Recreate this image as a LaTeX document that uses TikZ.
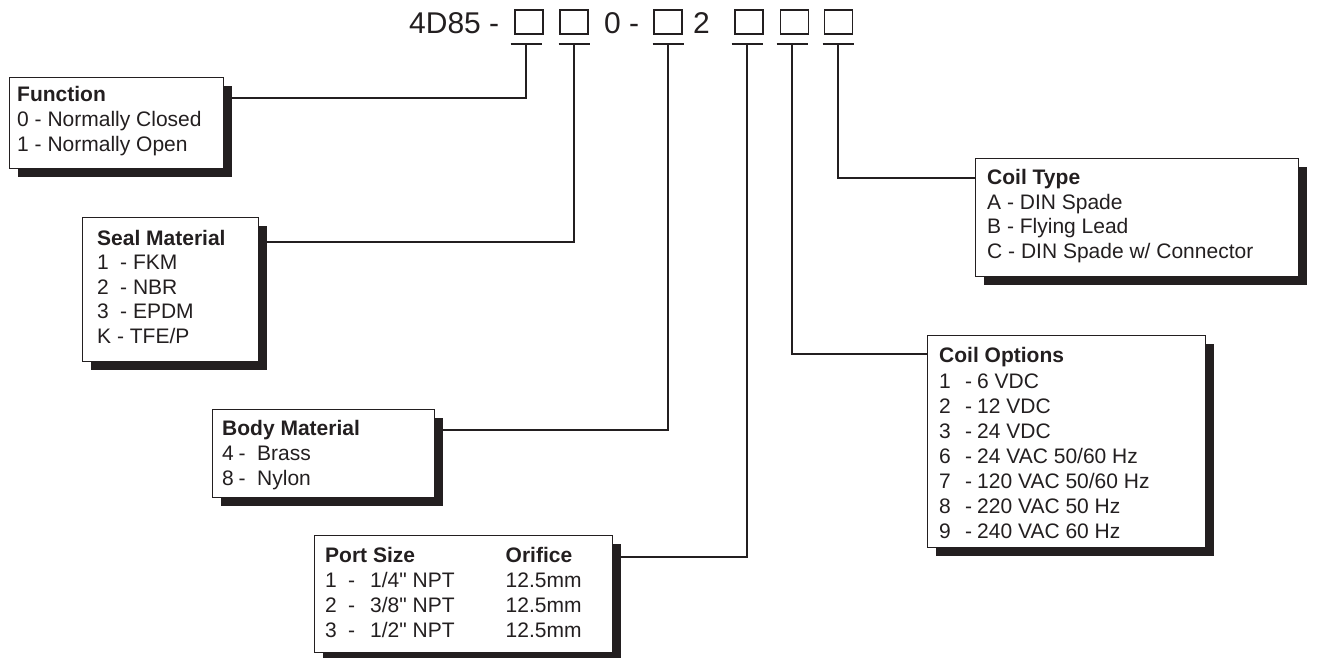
\documentclass[tikz,border=0pt]{standalone}
\usepackage{fontspec}
\setmainfont{Liberation Sans}[Ligatures=TeXOff]
\usetikzlibrary{shadows,backgrounds}
\definecolor{ink}{HTML}{231F20}
\begin{document}
\begin{tikzpicture}[x=1pt,y=-1pt,
  lead/.style={draw=ink,line width=2pt},
  selbox/.style={draw=ink,line width=1.6pt,minimum width=28pt,minimum height=24pt,inner sep=0pt,outer sep=0pt},
  panel/.style={draw=ink,line width=0.9pt,fill=white,anchor=north west,inner sep=0pt,outer sep=0pt,
     drop shadow={shadow xshift=9pt,shadow yshift=-9pt,opacity=1,fill=ink}},
  ttl/.style={anchor=base west,inner sep=0pt,text=ink,font=\fontsize{30}{36}\selectfont},
  txt/.style={anchor=base west,inner sep=0pt,text=ink,font=\fontsize{21}{25}\selectfont},
  hd/.style={anchor=base west,inner sep=0pt,text=ink,font=\fontsize{21}{25}\selectfont\bfseries}]
\useasboundingbox (0,0) rectangle (1322,658);

% title
\node[ttl] (tA) at (409,33.5) {4D85 -};
\node[ttl] (tB) at (604,33.5) {0 -};
\node[ttl] (tC) at (693,33.5) {2};
\node[selbox] (b1) at (529,22) {};
\node[selbox] (b2) at (574,22) {};
\node[selbox] (b3) at (668,22) {};
\node[selbox] (b4) at (749,22) {};
\node[selbox] (b5) at (794.5,22) {};
\node[selbox] (b6) at (838.5,22) {};

\coordinate (t1) at (526,44);
\coordinate (t2) at (574,44);
\coordinate (t3) at (668,44);
\coordinate (t4) at (747,44);
\coordinate (t5) at (792,44);
\coordinate (t6) at (838,44);

% panels
\node[panel,minimum width=214pt,minimum height=91pt] (fn) at (9,77) {};
\node[panel,minimum width=176pt,minimum height=144pt] (se) at (82,217) {};
\node[panel,minimum width=222pt,minimum height=88pt] (bo) at (212,409) {};
\node[panel,minimum width=298pt,minimum height=117pt] (po) at (314,535) {};
\node[panel,minimum width=323pt,minimum height=118pt] (ct) at (975,158) {};
\node[panel,minimum width=278pt,minimum height=212pt] (co) at (927,335) {};

% connectors
\begin{scope}[on background layer]
\foreach \t in {t1,t2,t3,t4,t5,t6}
  \draw[lead] ([xshift=-15.5pt]\t) -- ([xshift=15.5pt]\t);
\draw[lead] (t1) |- ([yshift=-21pt]fn.north east);
\draw[lead] (t2) |- ([yshift=-25pt]se.north east);
\draw[lead] (t3) |- ([yshift=-21pt]bo.north east);
\draw[lead] (t4) |- ([yshift=-22pt]po.north east);
\draw[lead] (t5) |- ([yshift=-19pt]co.north west);
\draw[lead] (t6) |- ([yshift=-20pt]ct.north west);
\end{scope}

% Function
\node[hd]  (fn0) at (17,102) {Function};
\node[txt] (fn1) at (17,127) {0 - Normally Closed};
\node[txt] (fn2) at (17,152) {1 - Normally Open};

% Seal Material
\node[hd]  (se0) at (97,245) {Seal Material};
\node[txt] (se1) at (97,269.5) {\makebox[23pt][l]{1}- FKM};
\node[txt] (se2) at (97,294) {\makebox[23pt][l]{2}- NBR};
\node[txt] (se3) at (97,318.5) {\makebox[23pt][l]{3}- EPDM};
\node[txt] (se4) at (97,343) {K - TFE/P};

% Body Material
\node[hd]  (bo0) at (222,435) {Body Material};
\node[txt] (bo1) at (222,460) {\makebox[16.5pt][l]{4}\makebox[18.5pt][l]{-}Brass};
\node[txt] (bo2) at (222,485) {\makebox[16.5pt][l]{8}\makebox[18.5pt][l]{-}Nylon};

% Port Size
\node[hd]  (po0) at (325,562) {Port Size};
\node[hd]  (po0b) at (505.5,562) {Orifice};
\node[txt] (po1) at (325,587) {\makebox[23pt][l]{1}\makebox[22pt][l]{-}1/4" NPT};
\node[txt] (po2) at (325,612) {\makebox[23pt][l]{2}\makebox[22pt][l]{-}3/8" NPT};
\node[txt] (po3) at (325,637) {\makebox[23pt][l]{3}\makebox[22pt][l]{-}1/2" NPT};
\node[txt] (po1b) at (505.5,587) {12.5mm};
\node[txt] (po2b) at (505.5,612) {12.5mm};
\node[txt] (po3b) at (505.5,637) {12.5mm};

% Coil Type
\node[hd]  (ct0) at (987,184) {Coil Type};
\node[txt] (ct1) at (987,209) {A - DIN Spade};
\node[txt] (ct2) at (987,233.5) {B - Flying Lead};
\node[txt] (ct3) at (987,258) {C - DIN Spade w/ Connector};

% Coil Options
\node[hd]  (co0) at (939,362) {Coil Options};
\node[txt] (co1) at (939,388) {\makebox[26pt][l]{1}\makebox[12pt][l]{-}6 VDC};
\node[txt] (co2) at (939,413) {\makebox[26pt][l]{2}\makebox[12pt][l]{-}12 VDC};
\node[txt] (co3) at (939,438) {\makebox[26pt][l]{3}\makebox[12pt][l]{-}24 VDC};
\node[txt] (co4) at (939,463) {\makebox[26pt][l]{6}\makebox[12pt][l]{-}24 VAC 50/60 Hz};
\node[txt] (co5) at (939,488) {\makebox[26pt][l]{7}\makebox[12pt][l]{-}120 VAC 50/60 Hz};
\node[txt] (co6) at (939,513) {\makebox[26pt][l]{8}\makebox[12pt][l]{-}220 VAC 50 Hz};
\node[txt] (co7) at (939,538) {\makebox[26pt][l]{9}\makebox[12pt][l]{-}240 VAC 60 Hz};
\end{tikzpicture}
\end{document}
